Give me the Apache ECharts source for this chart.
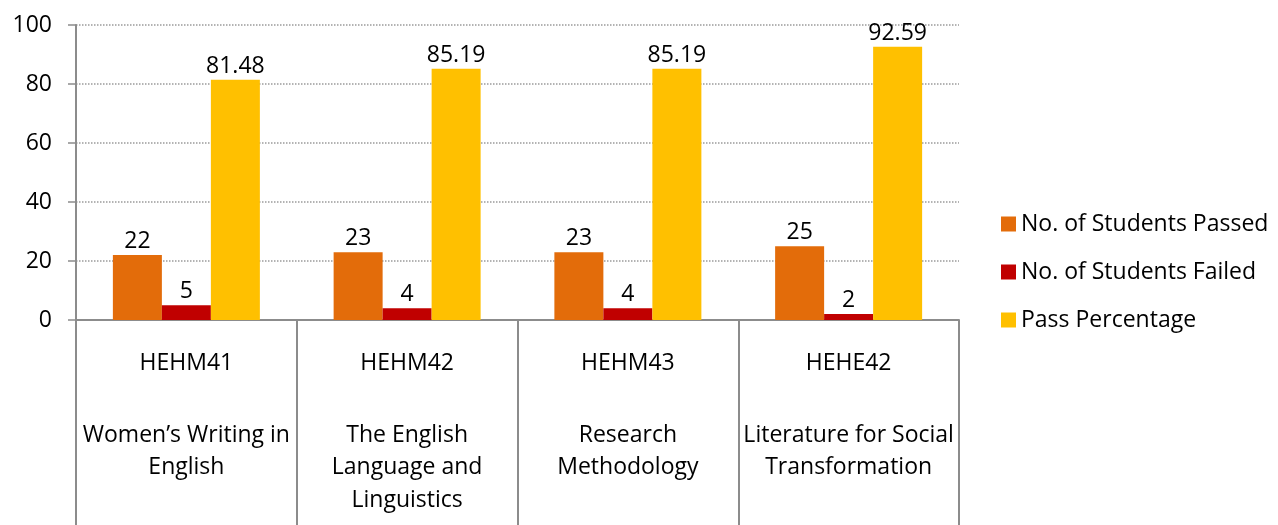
<!DOCTYPE html>
<html>
<head>
<meta charset="utf-8">
<script src="https://cdn.jsdelivr.net/npm/echarts@6/dist/echarts.min.js"></script>
<style>
  html, body { margin: 0; padding: 0; background: #fff; }
  #chart { width: 1278px; height: 525px; }
</style>
</head>
<body>
<div id="chart"></div>
<script>
// 课程代码与名称
var courseCodes = ['HEHM41', 'HEHM42', 'HEHM43', 'HEHE42'];
var courseNames = [
	'Women\u2019s Writing in\nEnglish',
	'The English\nLanguage and\nLinguistics',
	'Research\nMethodology',
	'Literature for Social\nTransformation'
];
var seriesNames = ['No. of Students Passed', 'No. of Students Failed', 'Pass Percentage'];
var passedCounts = [22, 23, 23, 25];
var failedCounts = [5, 4, 4, 2];
var passPercent = [81.48, 85.19, 85.19, 92.59];
var yTicks = [0, 20, 40, 60, 80, 100];

var fontFamily = '"Open Sans", Lato, sans-serif';
var fontSize = 23;
var colors = ['#E36C0A', '#C00000', '#FFC000'];
var axisGray = '#8c8c8c';

var myChart = echarts.init(document.getElementById('chart'));

var barLabel = {
	show : true,
	position : 'top',
	distance : 2,
	color : '#000',
	fontSize : fontSize,
	fontFamily : fontFamily
};

var makeSeries = function(name, data, idx) {
	return {
		name : name,
		type : 'bar',
		data : data,
		barWidth : 49,
		barGap : '0%',
		itemStyle : { color : colors[idx] },
		label : barLabel
	};
};

option = {
	animation : false,
	textStyle : { fontFamily : fontFamily },
	grid : {
		left : 76,
		right : 319,
		top : 25,
		bottom : 205
	},
	legend : {
		orient : 'vertical',
		left : 996,
		top : 206,
		itemWidth : 15,
		itemHeight : 15,
		itemGap : 22,
		icon : 'rect',
		textStyle : {
			fontSize : fontSize,
			lineHeight : 26,
			color : '#000',
			fontFamily : fontFamily,
			padding : [0, 0, 0, 0]
		},
		data : seriesNames
	},
	xAxis : [ {
		type : 'category',
		data : courseCodes,
		axisLine : { lineStyle : { color : axisGray, width : 2 } },
		axisTick : {
			show : true,
			length : 205,
			lineStyle : { color : axisGray, width : 2 }
		},
		axisLabel : {
			color : '#000',
			fontSize : fontSize,
			lineHeight : 32,
			fontFamily : fontFamily,
			margin : 27
		}
	}, {
		type : 'category',
		position : 'bottom',
		data : courseNames,
		axisLine : { show : false },
		axisTick : { show : false },
		axisLabel : {
			color : '#000',
			fontSize : fontSize,
			lineHeight : 32.5,
			fontFamily : fontFamily,
			margin : 99,
			interval : 0
		}
	} ],
	yAxis : {
		type : 'value',
		min : yTicks[0],
		max : yTicks[yTicks.length - 1],
		interval : 20,
		axisLine : { show : true, lineStyle : { color : axisGray, width : 2 } },
		axisTick : { show : true, length : 8, lineStyle : { color : axisGray, width : 1.5 } },
		axisLabel : {
			color : '#000',
			fontSize : fontSize,
			fontFamily : fontFamily,
			margin : 24
		},
		splitLine : {
			lineStyle : { color : '#9a9a9a', type : 'dotted', width : 1.5 }
		}
	},
	series : [
		makeSeries(seriesNames[0], passedCounts, 0),
		makeSeries(seriesNames[1], failedCounts, 1),
		makeSeries(seriesNames[2], passPercent, 2)
	]
};
myChart.setOption(option);
</script>
</body>
</html>
